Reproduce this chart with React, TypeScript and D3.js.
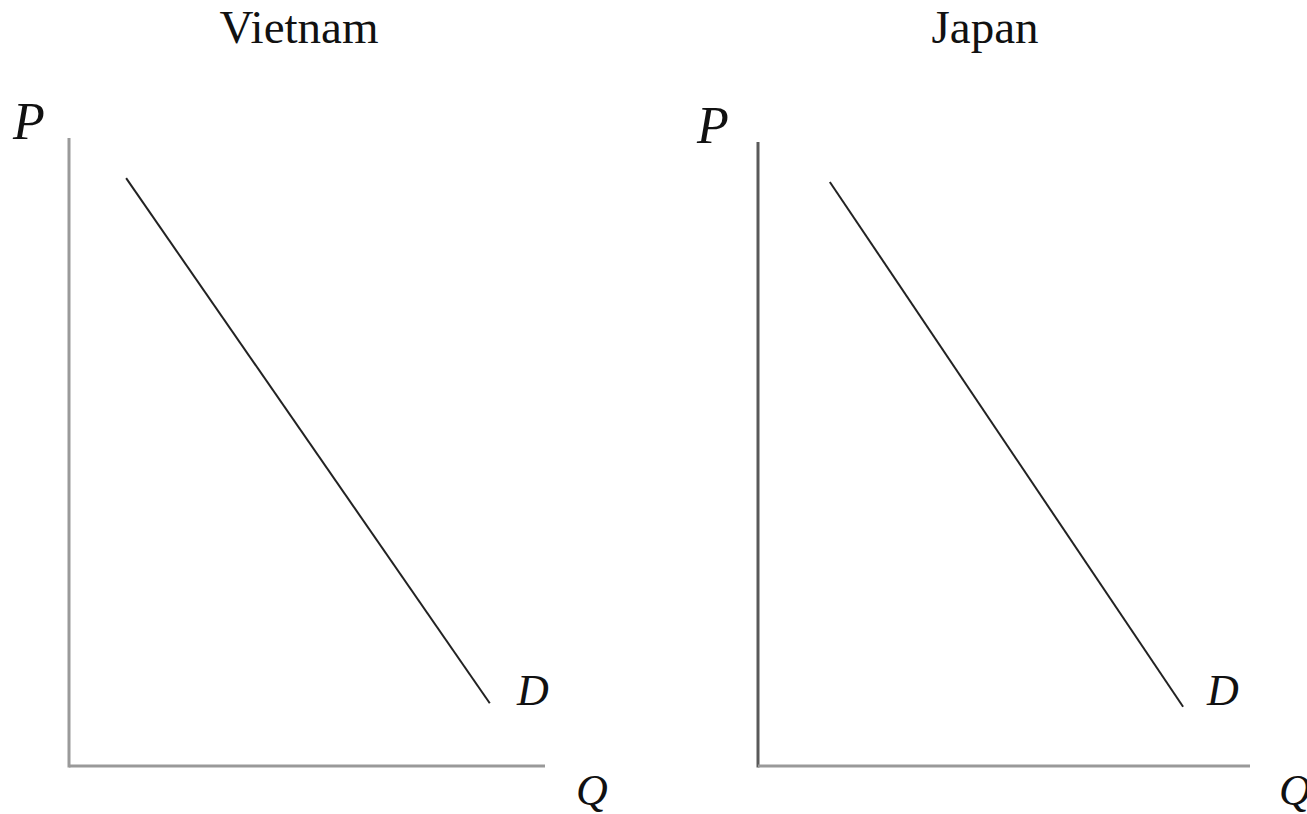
import React from "react";
import * as d3 from "d3";

const panels = ["Vietnam", "Japan"];
// demand line endpoints in axis units (0..10)
const demandStart = [
  { q: 1.2, p: 9.36 },
  { q: 1.46, p: 9.36 },
];
const demandEnd = [
  { q: 8.84, p: 1.0 },
  { q: 8.64, p: 0.95 },
];
const curveLabel = "D";
const yLabel = "P";
const xLabel = "Q";

const layout = [
  { x0: 69, x1: 545, y0: 766, y1: 138, titleX: 299, yColor: "#9a9a9a", pX: 13, dX: 517, qX: 576 },
  { x0: 758, x1: 1250, y0: 766, y1: 142, titleX: 985, yColor: "#5a5a5a", pX: 697, dX: 1207, qX: 1279 },
];

export default function App() {
  return (
    <svg width={1307} height={814} style={{ position: "absolute", left: 0, top: 0, background: "#fff" }}
      fontFamily="'Liberation Serif', 'Times New Roman', serif">
      {panels.map((name, i) => {
        const L = layout[i];
        const x = d3.scaleLinear().domain([0, 10]).range([L.x0, L.x1]);
        const y = d3.scaleLinear().domain([0, 10]).range([L.y0, L.y1]);
        const line = d3.line<{ q: number; p: number }>().x(d => x(d.q)).y(d => y(d.p));
        const pts = [demandStart[i], demandEnd[i]];
        return (
          <g key={name}>
            <text x={L.titleX} y={43} fontSize={47} textAnchor="middle" fill="#111">{name}</text>
            <line x1={x(0)} x2={x(0)} y1={y(0) + 1.5} y2={y(10)} stroke={L.yColor} strokeWidth={3} />
            <line x1={x(0)} x2={x(10)} y1={y(0)} y2={y(0)} stroke="#999" strokeWidth={3} />
            <path d={line(pts) || ""} fill="none" stroke="#222" strokeWidth={2} />
            <text x={L.pX} y={i === 0 ? 139 : 143} fontSize={52} fontStyle="italic" fill="#111">{yLabel}</text>
            <text x={L.dX} y={705} fontSize={44} fontStyle="italic" fill="#111">{curveLabel}</text>
            <text x={L.qX} y={805} fontSize={44} fontStyle="italic" fill="#111">{xLabel}</text>
          </g>
        );
      })}
    </svg>
  );
}
